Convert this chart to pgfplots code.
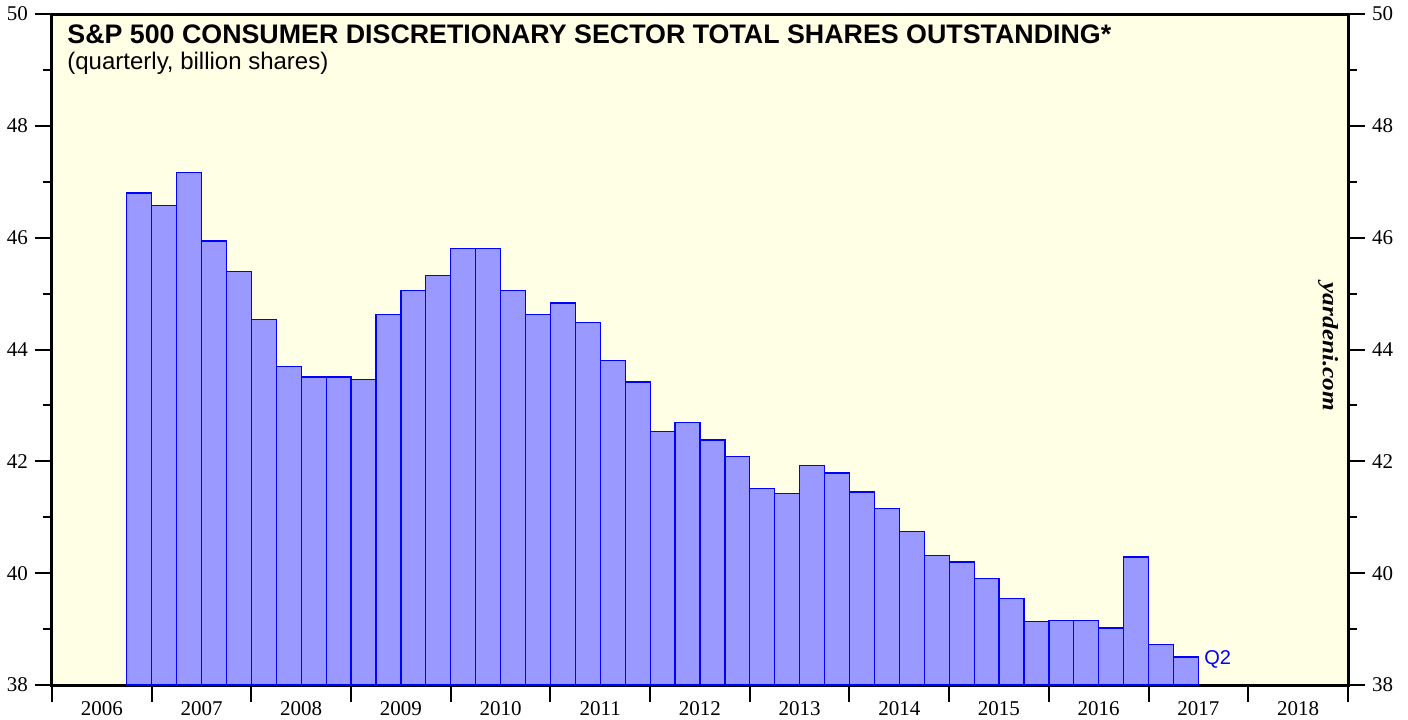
\documentclass[border=0pt]{standalone}
\usepackage{pgfplots}
\pgfplotsset{compat=1.18}
\usepackage{fontspec}
\setmainfont{Liberation Serif}
\newfontfamily\arial{Liberation Sans}
\definecolor{bg}{HTML}{FFFFE6}
\definecolor{barfill}{HTML}{9999FF}
\definecolor{baredge}{HTML}{0000FF}
\begin{document}
\begin{tikzpicture}
\useasboundingbox (-26pt,-17pt) rectangle (678pt,342.5pt);
\begin{axis}[
  at={(0,0)}, anchor=south west,
  width=648pt, height=335.5pt, scale only axis,
  xmin=2006, xmax=2019, ymin=38, ymax=50,
  axis background/.style={fill=bg},
  axis line style={line width=1.5pt},
  tick align=outside,
  major tick length=8.5pt, minor tick length=4.5pt,
  tick style={black, line width=1pt},
  xtick={2006,...,2019},
  x tick label as interval,
  xtick pos=lower,
  xticklabel style={font=\fontsize{10.5}{12}\selectfont, yshift=4pt},
  ytick={38,40,...,50},
  minor ytick={39,41,...,49},
  ytick pos=left,
  yticklabel style={font=\fontsize{10.5}{12}\selectfont},
  /pgf/number format/1000 sep={},
  /pgf/number format/assume math mode=true,
  clip=true,
]
\addplot[ybar interval, fill=barfill, draw=baredge, line width=0.6pt] coordinates {
(2006.75,46.80) (2007.00,46.58) (2007.25,47.16) (2007.50,45.94) (2007.75,45.39)
(2008.00,44.53) (2008.25,43.69) (2008.50,43.51) (2008.75,43.51)
(2009.00,43.47) (2009.25,44.63) (2009.50,45.06) (2009.75,45.33)
(2010.00,45.81) (2010.25,45.81) (2010.50,45.05) (2010.75,44.63)
(2011.00,44.83) (2011.25,44.49) (2011.50,43.81) (2011.75,43.42)
(2012.00,42.54) (2012.25,42.69) (2012.50,42.38) (2012.75,42.08)
(2013.00,41.52) (2013.25,41.43) (2013.50,41.92) (2013.75,41.79)
(2014.00,41.45) (2014.25,41.15) (2014.50,40.74) (2014.75,40.32)
(2015.00,40.20) (2015.25,39.91) (2015.50,39.54) (2015.75,39.14)
(2016.00,39.16) (2016.25,39.15) (2016.50,39.02) (2016.75,40.29)
(2017.00,38.72) (2017.25,38.50) (2017.50,38.50)
};
\node[anchor=base west, inner sep=0pt, text=baredge, font=\arial\fontsize{10}{12}\selectfont] at (axis cs:2017.555,38.375) {Q2};
\node[anchor=base west, inner sep=0pt, font=\arial\bfseries\fontsize{13.4}{15}\selectfont] at ([xshift=7.5pt,yshift=-14.5pt]rel axis cs:0,1) {S\&P 500 CONSUMER DISCRETIONARY SECTOR TOTAL SHARES OUTSTANDING*};
\node[anchor=base west, inner sep=0pt, font=\arial\fontsize{12}{14}\selectfont] at ([xshift=7.5pt,yshift=-27.5pt]rel axis cs:0,1) {(quarterly, billion shares)};
\node[rotate=-90, inner sep=0pt, font=\bfseries\itshape\fontsize{11}{13}\selectfont, xscale=1.15] at ([xshift=-10pt]rel axis cs:1,0.5037) {yardeni.com};
\end{axis}
\begin{axis}[
  at={(0,0)}, anchor=south west,
  width=648pt, height=335.5pt, scale only axis,
  xmin=2006, xmax=2019, ymin=38, ymax=50,
  hide x axis,
  axis y line*=right,
  axis line style={line width=1.5pt},
  tick align=outside,
  major tick length=8.5pt, minor tick length=4.5pt,
  tick style={black, line width=1pt},
  ytick={38,40,...,50},
  minor ytick={39,41,...,49},
  yticklabel style={font=\fontsize{10.5}{12}\selectfont},
  /pgf/number format/assume math mode=true,
]
\end{axis}
\end{tikzpicture}
\end{document}
